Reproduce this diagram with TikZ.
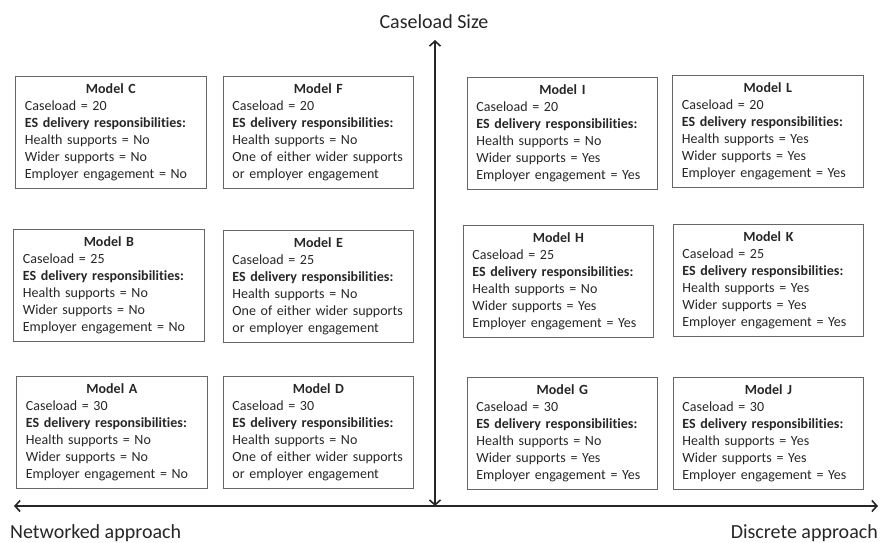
\documentclass[tikz,border=0pt]{standalone}
\usepackage{fontspec}
\setmainfont[Ligatures=NoCommon]{Carlito}
\usetikzlibrary{arrows.meta}

\newcommand{\ModelTxt}[5]{\makebox[\linewidth]{\bfseries Model #1}\\
  Caseload = #2\\
  \textbf{ES delivery responsibilities:}\\
  Health supports = #3\\
  Wider supports = #4\\
  Employer engagement = #5}
\newcommand{\EitherTxt}[2]{\makebox[\linewidth]{\bfseries Model #1}\\
  Caseload = #2\\
  \textbf{ES delivery responsibilities:}\\
  Health supports = No\\
  One of either wider supports\\
  or employer engagement}

\tikzset{
  modelbox/.style={draw=black!60, line width=0.8pt, anchor=north west,
    minimum width=190pt, minimum height=112pt, text width=172pt,
    inner xsep=9pt, inner ysep=0pt, align=left, text=black!85,
    font=\fontsize{14}{17}\selectfont},
  axislbl/.style={font=\fontsize{20}{24}\selectfont, inner sep=0pt, text=black!85},
  axis/.style={line width=1.6pt, black!85,
    {Straight Barb[length=5pt,width=11pt]}-{Straight Barb[length=5pt,width=11pt]}}
}

\begin{document}
\begin{tikzpicture}[x=1pt, y=-1pt]
    \useasboundingbox (0,0) rectangle (881,542);

    % axes
    \coordinate (sizeTop) at (435,40);
    \coordinate (sizeBot) at (435,506);
    \coordinate (netEnd) at (14,506);
    \coordinate (disEnd) at (878,506);
    \draw[axis] (netEnd) -- (disEnd);
    \draw[axis] (sizeTop) -- (sizeBot);

    \node[axislbl] (sizeLbl) at (434,22) {Caseload Size};
    \node[axislbl, anchor=west] (netLbl) at (10,533) {Networked approach};
    \node[axislbl, anchor=east] (disLbl) at (878,533) {Discrete approach};

    % top row: caseload 20
    \node[modelbox, minimum width=191pt] (mC) at (15,76)  {\ModelTxt{C}{20}{No}{No}{No}};
    \node[modelbox] (mF) at (223,76)  {\EitherTxt{F}{20}};
    \node[modelbox] (mI) at (467,77)  {\ModelTxt{I}{20}{No}{Yes}{Yes}};
    \node[modelbox, minimum width=191pt] (mL) at (672,75)  {\ModelTxt{L}{20}{Yes}{Yes}{Yes}};

    % middle row: caseload 25
    \node[modelbox, minimum width=191pt] (mB) at (13,229) {\ModelTxt{B}{25}{No}{No}{No}};
    \node[modelbox] (mE) at (223,230) {\EitherTxt{E}{25}};
    \node[modelbox] (mH) at (463,225) {\ModelTxt{H}{25}{No}{Yes}{Yes}};
    \node[modelbox] (mK) at (673,224) {\ModelTxt{K}{25}{Yes}{Yes}{Yes}};

    % bottom row: caseload 30
    \node[modelbox, minimum width=191pt] (mA) at (16,376) {\ModelTxt{A}{30}{No}{No}{No}};
    \node[modelbox] (mD) at (223,376) {\EitherTxt{D}{30}};
    \node[modelbox] (mG) at (467,377) {\ModelTxt{G}{30}{No}{Yes}{Yes}};
    \node[modelbox] (mJ) at (673,377) {\ModelTxt{J}{30}{Yes}{Yes}{Yes}};
\end{tikzpicture}
\end{document}
